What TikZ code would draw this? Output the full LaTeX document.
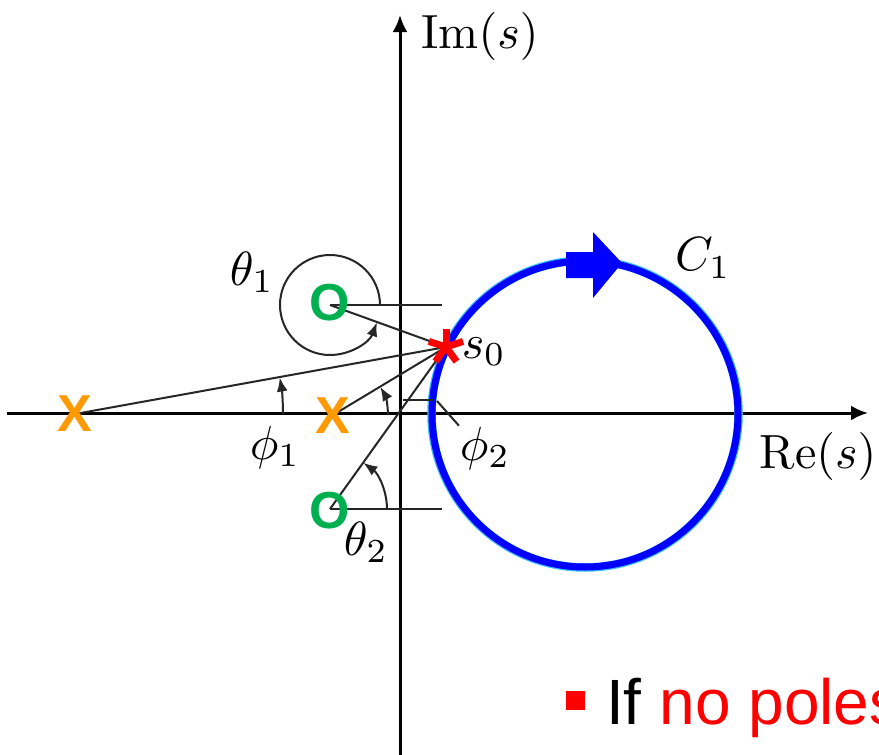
\documentclass[tikz,border=0pt]{standalone}
\usepackage{fontspec}
\newfontfamily\marksf{Liberation Sans}
\usetikzlibrary{arrows.meta}
\definecolor{poleorange}{RGB}{255,153,0}
\definecolor{zerogreen}{RGB}{0,176,80}
\definecolor{contourblue}{RGB}{0,0,255}
\definecolor{fringecyan}{RGB}{60,190,250}
\definecolor{ptred}{RGB}{255,0,0}
\begin{document}
\begin{tikzpicture}[x=1pt,y=1pt,
  lbl/.style={inner sep=0pt, scale=4.8},
  thinline/.style={line width=2pt, black!85},
  axisline/.style={line width=3pt, -{Latex[length=17pt,width=15pt]}},
  angarrow/.style={thinline, -{Latex[length=14pt,width=11pt]}},
  polemark/.style={text=poleorange, inner sep=0pt, font=\marksf\bfseries\fontsize{52}{52}\selectfont},
  zeromark/.style={text=zerogreen, inner sep=0pt, font=\marksf\bfseries\fontsize{52}{52}\selectfont},
]
\useasboundingbox (0,0) rectangle (879,-755);
\clip (0,0) rectangle (879,-755);

% positions
\coordinate (p1c) at (75,-414);
\coordinate (p2c) at (333,-415);
\coordinate (z1c) at (330,-305);
\coordinate (z2c) at (330,-509);
\coordinate (s0) at (446,-347);
\coordinate (xl) at (7,-413);
\coordinate (xr) at (868,-413);
\coordinate (yb) at (400,-760);
\coordinate (yt) at (400,-15);
\coordinate (cc) at (585,-414);

% axes
\draw[axisline] (xl) -- (xr);
\draw[axisline] (yb) -- (yt);

% contour C1
\draw[fringecyan, line width=8.5pt] (cc) circle[radius=153.5];
\draw[contourblue, line width=7pt] (cc) circle[radius=153];
\fill[contourblue] (566,-252) -- (593,-252) -- (593,-232) -- (622,-263) -- (593,-298) -- (593,-278) -- (566,-278) -- cycle;

% vectors to s0
\draw[thinline] (p1c) -- (s0);
\draw[thinline] (p2c) -- (s0);
\draw[thinline] (z1c) -- (s0);
\draw[thinline] (z2c) -- (s0);

% reference lines
\coordinate (z1r) at (442,-305);
\coordinate (z2r) at (442,-509);
\draw[thinline] (z1c) -- (z1r);
\draw[thinline] (z2c) -- (z2r);
\coordinate (ra) at (403,-400);
\coordinate (rb) at (433,-400);
\draw[thinline] (ra) -- (rb);

% angle arcs
\draw[angarrow] ([shift={(0:50)}]z1c) arc[start angle=0, end angle=339.7, radius=50];
\draw[angarrow] ([shift={(0:208)}]p1c) arc[start angle=0, end angle=10.1, radius=208];
\draw[angarrow] ([shift={(0:55)}]p2c) arc[start angle=0, end angle=30.7, radius=55];
\draw[angarrow] ([shift={(0:57)}]z2c) arc[start angle=0, end angle=54.2, radius=57];

% markers
\node[polemark] (p1) at (p1c) {X};
\node[polemark] (p2) at (333,-416) {X};
\node[zeromark] (z1) at (330,-303) {O};
\node[zeromark] (z2) at (330,-511) {O};
\foreach \a in {90,162,234,306,18}
  \draw[ptred, line width=7pt] (s0) -- ++(\a:18);

% labels
\node[lbl] (imlab) at (480,-36) {$\mathrm{Im}(s)$};
\node[lbl] (relab) at (818,-456) {$\mathrm{Re}(s)$};
\node[lbl] (clab) at (703,-258) {$C_1$};
\node[lbl] (slab) at (484,-352) {$s_0$};
\node[lbl] (t1lab) at (252,-272) {$\theta_1$};
\node[lbl] (f1lab) at (275,-447) {$\phi_1$};
\node[lbl] (f2lab) at (485,-448) {$\phi_2$};
\node[lbl] (t2lab) at (366,-542) {$\theta_2$};
\coordinate (ldr) at (437,-401);
\draw[thinline] (ldr) -- (f2lab.north west);

% bullet text
\node[fill=ptred, minimum size=19pt, inner sep=0pt] (bullet) at (575.5,-700.5) {};
\node[anchor=base west, inner sep=0pt, font=\marksf\fontsize{64}{64}\selectfont] (txt) at (606,-724) {If \textcolor{ptred}{no poles}};
\end{tikzpicture}
\end{document}
